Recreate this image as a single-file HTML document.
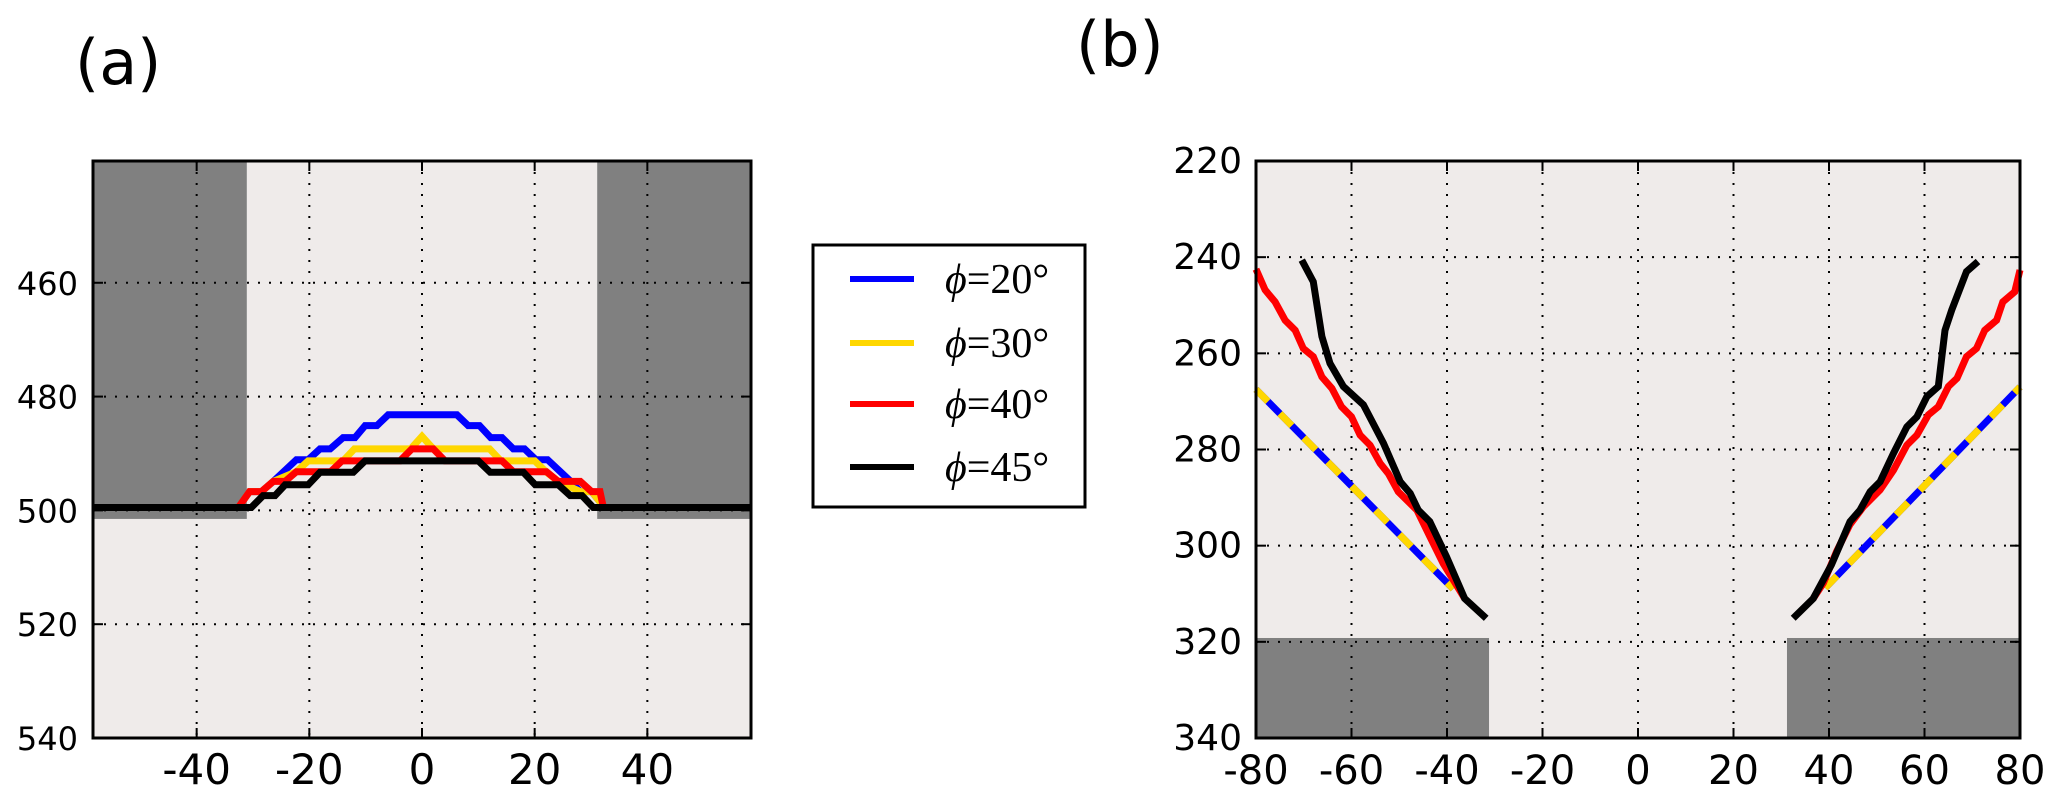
<!DOCTYPE html>
<html><head><meta charset="utf-8">
<style>
html,body{margin:0;padding:0;background:#fff;}
svg{display:block;}
text{font-family:"DejaVu Sans","Liberation Sans",sans-serif;fill:#000;}
</style></head>
<body>
<svg id="fig" width="2067" height="804" viewBox="0 0 2067 804" xmlns="http://www.w3.org/2000/svg">
<text x="75" y="84" font-size="62">(a)</text>
<text x="1076" y="66" font-size="62">(b)</text>
<g id="pa"></g>
<g id="pb"></g>
<g>
<rect x="813" y="245" width="272" height="262" fill="#fff" stroke="#000" stroke-width="3"/>
<line x1="850" y1="279" x2="914" y2="279" stroke="#0000ff" stroke-width="6"/>
<line x1="850" y1="343" x2="914" y2="343" stroke="#ffd700" stroke-width="6"/>
<line x1="850" y1="404" x2="914" y2="404" stroke="#ff0000" stroke-width="6"/>
<line x1="850" y1="467" x2="914" y2="467" stroke="#000" stroke-width="6"/>
<text x="945" y="293" font-size="42" style="font-family:'Liberation Serif',serif"><tspan font-style="italic">ϕ</tspan>=20°</text>
<text x="945" y="357" font-size="42" style="font-family:'Liberation Serif',serif"><tspan font-style="italic">ϕ</tspan>=30°</text>
<text x="945" y="418" font-size="42" style="font-family:'Liberation Serif',serif"><tspan font-style="italic">ϕ</tspan>=40°</text>
<text x="945" y="481" font-size="42" style="font-family:'Liberation Serif',serif"><tspan font-style="italic">ϕ</tspan>=45°</text>
</g>
</svg>
<script>
// ---- Panel (a) data ----
const aXTicks = [-40,-20,0,20,40];
const aYTicks = [460,480,500,520,540];
const aBlueX = [-58.4,-32.6,-30.6,-28.5,-26.4,-22.3,-20.2,-18.1,-16.3,-14,-11.9,-10.1,-8,-6,6.2,8.2,10.2,12.2,14.2,16.2,18.2,20.2,22.3,26.4,28.1,30.1,31.6,32.2,58.4];
const aBlueY = [499.5,499.5,496.7,496.7,494.9,491.1,491.1,489.2,489.2,487.2,487.2,485.1,485.1,483.2,483.2,485.1,485.1,487.2,487.2,489.2,489.2,491.1,491.1,494.9,496.7,496.7,498.5,499.5,499.5];
const aYellowX = [-58.4,-32.6,-30.6,-28.5,-26.4,-22.3,-20.2,-14,-12,-2,0,2,12,14,20,22,24.2,28.1,30.1,31.6,32.2,58.4];
const aYellowY = [499.5,499.5,496.7,496.7,494.9,493.2,491.3,491.3,489.2,489.2,487.0,489.2,489.2,491.3,491.3,493.2,494.9,496.7,496.7,498.5,499.5,499.5];
const aRedX = [-58.4,-32.6,-30.6,-28.5,-26.4,-24.3,-22.3,-16.2,-14.2,-3.9,-1.8,2.0,4.1,14.2,16.2,22.1,24.2,28.1,30.1,31.6,32.2,58.4];
const aRedY = [499.5,499.5,496.7,496.7,494.9,494.9,493.2,493.2,491.3,491.3,489.2,489.2,491.3,491.3,493.2,493.2,494.9,494.9,496.7,496.7,499.5,499.5];
const aBlackX = [-58.4,-30.3,-28.2,-26.1,-24.3,-20.2,-18.1,-12.2,-10.1,10.0,12.1,18.0,20.1,24.2,26.3,28.4,30.4,58.4];
const aBlackY = [499.5,499.5,497.4,497.4,495.5,495.5,493.3,493.3,491.3,491.3,493.3,493.3,495.5,495.5,497.4,497.4,499.5,499.5];
const aWallX = [31.1];
const aWallBottom = [501.5];

// ---- Panel (b) data ----
const bXTicks = [-80,-60,-40,-20,0,20,40,60,80];
const bYTicks = [220,240,260,280,300,320,340];
const bBlackLX = [-70.4,-68.0,-66.2,-64.5,-61.7,-57.5,-53.3,-49.8,-47.7,-46.0,-43.6,-40.1,-36.3,-31.8];
const bBlackLY = [240.6,245.1,256.5,262.1,266.9,270.7,278.7,286.7,289.1,292.6,295.0,302.3,311.0,315.1];
const bRedLX = [-80,-78.1,-76.0,-73.9,-71.8,-70.1,-68.0,-66.2,-64.1,-62.1,-60,-58.2,-56.1,-54.0,-52.3,-50.2,-46.3,-43.6,-40.8,-36.3];
const bRedLY = [242.5,246.8,249.3,253.1,255.2,259.0,260.7,264.9,267.3,271.1,273.2,277.0,279.1,282.9,285.0,288.8,292.6,298.1,303.7,311.0];
const bBlackRX = [32.5,36.7,40.5,44.4,46.5,48.6,50.7,53.5,56.3,58.4,60.5,62.9,64.3,65.7,68.8,71.2];
const bBlackRY = [315.1,311.0,304.0,295.0,292.6,288.8,286.7,280.8,275.3,273.2,269.0,266.9,255.2,251.0,243.0,240.9];
const bRedRX = [36.7,38.8,41.6,44.4,47.2,50.7,53.5,56.3,58.4,60.8,62.9,65.0,66.8,68.8,70.9,72.6,75.1,76.4,78.9,80];
const bRedRY = [311.0,307.8,301.2,295.6,291.9,288.4,284.3,279.1,277.0,272.8,271.1,266.9,265.2,260.7,259.0,255.2,253.1,249.3,247.2,242.7];
const bLinLX = [-80,-38.7];
const bLinLY = [267.5,309.0];
const bLinRX = [39.2,80];
const bLinRY = [308.8,267.0];
const bWallX = [31.2];
const bWallTop = [319.2];

const NS='http://www.w3.org/2000/svg';
function mk(parent,tag,attrs){const e=document.createElementNS(NS,tag);for(const k in attrs)e.setAttribute(k,attrs[k]);parent.appendChild(e);return e;}
function pathD(xs,ys,sx,sy){return xs.map((x,i)=>(i?'L':'M')+sx(x).toFixed(1)+','+sy(ys[i]).toFixed(1)).join('');}

function axes(g,L,R,T,B,xmin,xmax,ymin,ymax,xt,yt,xfs,yfs,ylabX,tag){
  const sx=v=>L+(v-xmin)/(xmax-xmin)*(R-L);
  const sy=v=>T+(v-ymin)/(ymax-ymin)*(B-T);
  const bg=mk(g,'rect',{x:L,y:T,width:R-L,height:B-T,fill:'#efebea'});
  
  
  return {sx,sy,grid:function(){
    xt.forEach(v=>{const x=sx(v);if(x<=L+1||x>=R-1)return;
      const l=mk(g,'line',{x1:x,y1:T,x2:x,y2:B,stroke:'#000','stroke-width':2,'stroke-dasharray':'2 9'});
      
      });
    yt.forEach(v=>{const y=sy(v);if(y<=T+1||y>=B-1)return;
      const l=mk(g,'line',{x1:L,y1:y,x2:R,y2:y,stroke:'#000','stroke-width':2,'stroke-dasharray':'2 9'});
      
      });
  },frame:function(){
    xt.forEach(v=>{const x=sx(v);
      mk(g,'line',{x1:x,y1:B,x2:x,y2:B-10,stroke:'#000','stroke-width':2});
      mk(g,'line',{x1:x,y1:T,x2:x,y2:T+10,stroke:'#000','stroke-width':2});
      const t=mk(g,'text',{x:x,y:B+46,'font-size':xfs,'text-anchor':'middle'});t.textContent=v;
      
      });
    yt.forEach(v=>{const y=sy(v);
      mk(g,'line',{x1:L,y1:y,x2:L+10,y2:y,stroke:'#000','stroke-width':2});
      mk(g,'line',{x1:R,y1:y,x2:R-10,y2:y,stroke:'#000','stroke-width':2});
      const t=mk(g,'text',{x:ylabX,y:y+12,'font-size':yfs,'text-anchor':'end'});t.textContent=v;
      
      });
    const f=mk(g,'rect',{x:L,y:T,width:R-L,height:B-T,fill:'none',stroke:'#000','stroke-width':3});
    
    
  }};
}
function series(g,xs,ys,sx,sy,color,name,dash){
  const a={d:pathD(xs,ys,sx,sy),fill:'none',stroke:color,'stroke-width':7,'stroke-linejoin':'miter'};
  if(dash)a['stroke-dasharray']=dash;
  const p=mk(g,'path',a);
  
  
}

// Panel a
(function(){
  const g=document.getElementById('pa');
  const A=axes(g,93,751,161,738,-58.4,58.4,438.6,540,aXTicks,aYTicks,42,32,78,'panel-a');
  const sx=A.sx,sy=A.sy;
  const w1=mk(g,'rect',{x:sx(-58.4),y:sy(438.6),width:sx(-aWallX[0])-sx(-58.4),height:sy(aWallBottom[0])-sy(438.6),fill:'#808080'});
  
  
  const w2=mk(g,'rect',{x:sx(aWallX[0]),y:sy(438.6),width:sx(58.4)-sx(aWallX[0]),height:sy(aWallBottom[0])-sy(438.6),fill:'#808080'});
  
  
  A.grid();
  series(g,aBlueX,aBlueY,sx,sy,'#0000ff','a-series-phi20');
  series(g,aYellowX,aYellowY,sx,sy,'#ffd700','a-series-phi30');
  series(g,aRedX,aRedY,sx,sy,'#ff0000','a-series-phi40');
  series(g,aBlackX,aBlackY,sx,sy,'#000000','a-series-phi45');
  A.frame();
})();

// Panel b
(function(){
  const g=document.getElementById('pb');
  const A=axes(g,1256,2020,161,738,-80,80,220,340,bXTicks,bYTicks,40,36,1242,'panel-b');
  const sx=A.sx,sy=A.sy;
  const w1=mk(g,'rect',{x:sx(-80),y:sy(bWallTop[0]),width:sx(-bWallX[0])-sx(-80),height:sy(340)-sy(bWallTop[0]),fill:'#808080'});
  
  
  const w2=mk(g,'rect',{x:sx(bWallX[0]),y:sy(bWallTop[0]),width:sx(80)-sx(bWallX[0]),height:sy(340)-sy(bWallTop[0]),fill:'#808080'});
  
  
  A.grid();
  series(g,bLinLX,bLinLY,sx,sy,'#0000ff','b-series-phi20-left');
  series(g,bLinLX,bLinLY,sx,sy,'#ffd700','b-series-phi30-left','17 17');
  series(g,bLinRX,bLinRY,sx,sy,'#0000ff','b-series-phi20-right');
  series(g,bLinRX,bLinRY,sx,sy,'#ffd700','b-series-phi30-right','17 17');
  series(g,bRedLX,bRedLY,sx,sy,'#ff0000','b-series-phi40-left');
  series(g,bRedRX,bRedRY,sx,sy,'#ff0000','b-series-phi40-right');
  series(g,bBlackLX,bBlackLY,sx,sy,'#000000','b-series-phi45-left');
  series(g,bBlackRX,bBlackRY,sx,sy,'#000000','b-series-phi45-right');
  A.frame();
})();
</script>
</body></html>
